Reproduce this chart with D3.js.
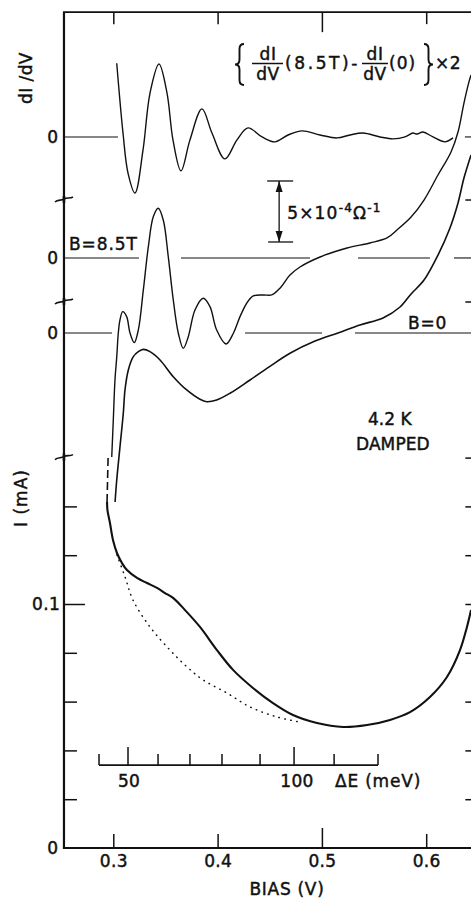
<!DOCTYPE html>
<html><head><meta charset="utf-8">
<script src="https://cdn.jsdelivr.net/npm/d3@7"></script>
<style>
html,body{margin:0;padding:0;background:#fff}
svg{display:block}
text{font-family:"DejaVu Sans",sans-serif;fill:#111;stroke:#111;stroke-width:0.45px}
</style>
</head><body>
<svg id="c" width="471" height="898"></svg>
<script>
// ---------- DATA ----------
const BIAS_TICKS = [0.3, 0.4, 0.5, 0.6];                 // V
const I_TICKS = [0.02, 0.04, 0.06, 0.08, 0.1, 0.12, 0.14]; // mA
const I_BREAK = 0.16;                                     // mA (axis break)
const DIDV_BREAKS = [10.9, 2.54];                         // 1e-4 Ohm^-1 (axis breaks)

// dI/dV offsets of each trace's "0" line (1e-4 Ohm^-1, B=0 line = 0)
const OFFSET_B0 = 0, OFFSET_B85 = 6.15, OFFSET_DIFF = 16.07;
const DIFF_FACTOR = 2;

// I-V curve (bias V, current mA)
const IV_BIAS = [0.2940,0.2944,0.2968,0.2997,0.3035,0.3083,0.3131,0.3227,0.3323,0.3419,0.3496,0.3573,0.3688,0.3831,0.3994,0.4148,0.4339,0.4531,0.4723,0.4953,0.5203,0.5433,0.5653,0.5845,0.6036,0.6199,0.6324,0.6391,0.6430];
const IV_CURR = [0.1418,0.1385,0.1332,0.1262,0.1209,0.1168,0.1139,0.1107,0.1086,0.1066,0.1045,0.1025,0.0975,0.0906,0.0811,0.0730,0.0656,0.0594,0.0545,0.0512,0.0496,0.0504,0.0525,0.0557,0.0619,0.0701,0.0811,0.0906,0.0975];
// dashed continuation of I-V above the break
const IV_DASH_BIAS = [0.2950, 0.2940];
const IV_DASH_CURR = [0.1598, 0.1418];
// dotted background curve
const DOT_BIAS = [0.3035,0.3113,0.3189,0.3352,0.3544,0.3707,0.3860,0.4090,0.4311,0.4570,0.4790];
const DOT_CURR = [0.1201,0.1111,0.1016,0.0906,0.0811,0.0742,0.0689,0.0635,0.0578,0.0537,0.0516];

// dI/dV at B = 0 (1e-4 Ohm^-1 relative to its 0 line)
const B0_BIAS = [0.3017,0.3033,0.3064,0.3096,0.3112,0.3144,0.3192,0.3240,0.3288,0.3352,0.3448,0.3575,0.3704,0.3831,0.3896,0.3991,0.4119,0.4311,0.4502,0.4694,0.4934,0.5154,0.5365,0.5586,0.5749,0.5855,0.5979,0.6113,0.6228,0.6305,0.6362,0.6430];
const B0_VAL  = [-13.85,-12.05,-9.34,-6.56,-4.67,-3.03,-1.94,-1.53,-1.34,-1.53,-2.21,-3.58,-4.67,-5.43,-5.63,-5.49,-4.94,-3.85,-2.73,-1.66,-0.66,0,0.66,1.23,2.13,3.20,4.34,6.39,8.61,10.66,12.70,14.59];

// dI/dV at B = 8.5 T
const B85_BIAS = [0.2985,0.3000,0.3016,0.3033,0.3048,0.3064,0.3090,0.3128,0.3160,0.3201,0.3240,0.3288,0.3336,0.3384,0.3431,0.3479,0.3527,0.3575,0.3623,0.3671,0.3719,0.3783,0.3863,0.3927,0.3991,0.4081,0.4151,0.4215,0.4279,0.4342,0.4438,0.4519,0.4598,0.4694,0.4790,0.4982,0.5241,0.5461,0.5624,0.5720,0.5855,0.5979,0.6113,0.6238,0.6305,0.6362,0.6410,0.6430];
const B85_VAL  = [-16.31,-13.28,-10.00,-8.11,-6.15,-5.08,-4.40,-4.81,-6.15,-6.94,-5.90,-2.62,0.93,3.39,4.07,3.11,0.11,-3.44,-6.15,-7.40,-6.45,-4.26,-3.30,-3.99,-5.90,-7.05,-6.17,-4.81,-3.71,-3.11,-3.03,-3.03,-2.48,-1.39,-0.74,0.08,0.82,1.23,1.64,2.30,3.36,4.75,6.80,8.69,10.33,12.70,14.43,15.00];

// difference dI/dV(8.5T) - dI/dV(0) (actual, plotted x2)
const DIFF_BIAS = [0.3033,0.3093,0.3141,0.3208,0.3285,0.3352,0.3438,0.3515,0.3572,0.3649,0.3735,0.3850,0.3946,0.4070,0.4186,0.4291,0.4426,0.4550,0.4675,0.4809,0.4982,0.5145,0.5269,0.5394,0.5557,0.5682,0.5797,0.5873,0.5912,0.5969,0.6065,0.6180,0.6257];
const DIFF_VAL  = [3.02,0.16,-1.48,-2.30,-0.53,1.80,2.99,1.80,-0.12,-1.39,-0.12,1.15,0.16,-0.90,-0.12,0.37,0,-0.20,0.08,0.25,0.08,-0.04,0.08,0.16,0,-0.08,0,0.16,0.12,0.20,0,-0.20,-0.04];

// drawn pieces of the zero lines (bias ranges)
const ZERO_SEG_DIFF = [[0.2527,0.3045],[0.6371,0.65]];
const ZERO_SEG_B85  = [[0.2527,0.3246],[0.3649,0.4886],[0.5346,0.6036],[0.6266,0.65]];
const ZERO_SEG_B0   = [[0.2527,0.2988],[0.4263,0.5001],[0.5317,0.65]];

// scale bar (5e-4 Ohm^-1)
const SCALE_BAR_BIAS = 0.459, SCALE_BAR_FROM = 7.46, SCALE_BAR_SPAN = 5;

// Delta E inset scale (meV) and its bias positions
const DE_TICKS = [50,60,70,80,90,100,110];
const DE_BIAS  = [0.3141,0.3429,0.3735,0.4042,0.4407,0.4733,0.5117];
const DE_ENDS  = [0.2863,0.5538];
const DE_LEVEL = 0.034; // mA level of the inset axis

const X_MIN = 0.2527, X_MAX = 0.65, DIDV_TOP = 26.3;

// ---------- SCALES ----------
const x = d3.scaleLinear().domain([0.3, 0.6]).range([113.3, 426.2]);
const yI = d3.scaleLinear().domain([0, 0.1]).range([848, 604]);
const yD = d3.scaleLinear().domain([0, 5]).range([333, 272]);

const svg = d3.select('#c');
const L = x(X_MIN), R = x(X_MAX), B = yI(0), T = yD(DIDV_TOP);
const ink = '#111';

// ---------- FRAME ----------
svg.append('line').attr('x1',L).attr('x2',L).attr('y1',T).attr('y2',B+1).attr('stroke',ink).attr('stroke-width',2.2);
svg.append('line').attr('x1',L-1).attr('x2',R).attr('y1',B).attr('y2',B).attr('stroke',ink).attr('stroke-width',2.2);
svg.append('line').attr('x1',L-1).attr('x2',R).attr('y1',T).attr('y2',T).attr('stroke',ink).attr('stroke-width',1.6);
svg.append('line').attr('x1',R).attr('x2',R).attr('y1',T).attr('y2',B).attr('stroke',ink).attr('stroke-width',2);

function styleAxis(g){
  g.select('.domain').remove();
  g.selectAll('line').attr('stroke',ink).attr('stroke-width',1.5);
  g.attr('font-family','DejaVu Sans').attr('font-size',17);
  g.selectAll('text').attr('fill',ink).style('letter-spacing','0.3px');
}
// bottom axis
const gb = svg.append('g').attr('transform',`translate(0,${B})`)
  .call(d3.axisBottom(x).tickValues(BIAS_TICKS).tickSizeInner(-14).tickSizeOuter(0).tickPadding(7).tickFormat(d3.format('.1f')));
styleAxis(gb);
gb.selectAll('.tick').filter(d=>d===0.5).select('line').attr('y2',-20);
// top axis
const gt = svg.append('g').attr('transform',`translate(0,${T})`)
  .call(d3.axisTop(x).tickValues(BIAS_TICKS).tickSizeInner(-12).tickSizeOuter(0).tickFormat(''));
styleAxis(gt);
gt.selectAll('.tick').filter(d=>d===0.5).select('line').attr('y2',20);
// left current axis
const gl = svg.append('g').attr('transform',`translate(${L},0)`)
  .call(d3.axisRight(yI).tickValues(I_TICKS).tickSizeInner(13).tickSizeOuter(0).tickFormat(''));
styleAxis(gl);
gl.selectAll('.tick').filter(d=>d===0.1).select('line').attr('x2',21);
// right axis
const gr = svg.append('g').attr('transform',`translate(${R},0)`)
  .call(d3.axisLeft(yI).tickValues(I_TICKS.concat([I_BREAK])).tickSizeInner(13).tickSizeOuter(0).tickFormat(''));
styleAxis(gr);
DIDV_BREAKS.forEach(v=>{
  svg.append('line').attr('x1',R-13).attr('x2',R).attr('y1',yD(v)).attr('y2',yD(v)).attr('stroke',ink).attr('stroke-width',1.5);
});

// axis break squiggles on left axis
function breakMark(y){
  svg.append('path')
    .attr('d',`M${L-9},${y+2} C${L-6},${y-1} ${L-3},${y+1} ${L},${y-1} C${L+3},${y-3} ${L+6},${y-1} ${L+9},${y-3}`)
    .attr('fill','none').attr('stroke',ink).attr('stroke-width',1.6);
  svg.append('line').attr('x1',L).attr('x2',L).attr('y1',y-4).attr('y2',y+3).attr('stroke',ink).attr('stroke-width',2.6);
}
DIDV_BREAKS.forEach(v=>breakMark(yD(v)));
breakMark(yI(I_BREAK));

// ---------- ZERO LINES ----------
function zeroLines(segs, off){
  segs.forEach(s=>{
    svg.append('line').attr('x1',x(s[0])).attr('x2',Math.min(x(s[1]),R)).attr('y1',yD(off)).attr('y2',yD(off))
      .attr('stroke',ink).attr('stroke-width',1.1);
  });
}
zeroLines(ZERO_SEG_DIFF, OFFSET_DIFF);
zeroLines(ZERO_SEG_B85, OFFSET_B85);
zeroLines(ZERO_SEG_B0, OFFSET_B0);

// ---------- CURVES ----------
const cr = d3.curveCatmullRom.alpha(0.5);
function dLine(bias, vals, off, k){
  const pts = bias.map((b,i)=>[b, vals[i]*k + off]);
  return d3.line().x(d=>x(d[0])).y(d=>yD(d[1])).curve(cr)(pts);
}
function iLine(bias, vals){
  const pts = bias.map((b,i)=>[b, vals[i]]);
  return d3.line().x(d=>x(d[0])).y(d=>yI(d[1])).curve(cr)(pts);
}
svg.append('path').attr('d',dLine(DIFF_BIAS,DIFF_VAL,OFFSET_DIFF,DIFF_FACTOR)).attr('fill','none').attr('stroke',ink).attr('stroke-width',1.4);
svg.append('path').attr('d',dLine(B85_BIAS,B85_VAL,OFFSET_B85,1)).attr('fill','none').attr('stroke',ink).attr('stroke-width',1.4);
svg.append('path').attr('d',dLine(B0_BIAS,B0_VAL,OFFSET_B0,1)).attr('fill','none').attr('stroke',ink).attr('stroke-width',1.6);
svg.append('path').attr('d',iLine(IV_BIAS,IV_CURR)).attr('fill','none').attr('stroke',ink).attr('stroke-width',2.1);
svg.append('path').attr('d',iLine(IV_DASH_BIAS,IV_DASH_CURR)).attr('fill','none').attr('stroke',ink).attr('stroke-width',1.6).attr('stroke-dasharray','8,4');
svg.append('path').attr('d',iLine(DOT_BIAS,DOT_CURR)).attr('fill','none').attr('stroke',ink).attr('stroke-width',1.5)
  .attr('stroke-dasharray','0.5,5.5').attr('stroke-linecap','round');

// ---------- SCALE BAR ----------
{
  const sx = x(SCALE_BAR_BIAS), y0 = yD(SCALE_BAR_FROM), y1 = yD(SCALE_BAR_FROM+SCALE_BAR_SPAN);
  svg.append('line').attr('x1',sx).attr('x2',sx).attr('y1',y0).attr('y2',y1).attr('stroke',ink).attr('stroke-width',1.3);
  svg.append('line').attr('x1',sx-12).attr('x2',sx+14).attr('y1',y1).attr('y2',y1).attr('stroke',ink).attr('stroke-width',1.3);
  svg.append('line').attr('x1',sx-11).attr('x2',sx+14).attr('y1',y0).attr('y2',y0).attr('stroke',ink).attr('stroke-width',1.3);
  svg.append('path').attr('d',`M${sx},${y1} L${sx-3.5},${y1+11} L${sx+3.5},${y1+11} Z`).attr('fill',ink);
  svg.append('path').attr('d',`M${sx},${y0} L${sx-3.5},${y0-11} L${sx+3.5},${y0-11} Z`).attr('fill',ink);
  const t = svg.append('text').attr('x',sx+8).attr('y',yD(SCALE_BAR_FROM+SCALE_BAR_SPAN/2)+8).attr('font-size',17).style('letter-spacing','1.2px');
  t.append('tspan').text('5×10');
  t.append('tspan').attr('dy',-7).attr('font-size',12).text('-4');
  t.append('tspan').attr('dy',7).text('Ω');
  t.append('tspan').attr('dy',-7).attr('font-size',12).text('-1');
}

// ---------- DELTA E INSET ----------
{
  const yy = yI(DE_LEVEL);
  svg.append('line').attr('x1',x(DE_ENDS[0])).attr('x2',x(DE_ENDS[1])).attr('y1',yy).attr('y2',yy).attr('stroke',ink).attr('stroke-width',1.8);
  DE_ENDS.forEach(b=>svg.append('line').attr('x1',x(b)).attr('x2',x(b)).attr('y1',yy).attr('y2',yy-11).attr('stroke',ink).attr('stroke-width',1.5));
  DE_TICKS.forEach((e,i)=>{
    const major = e%50===0;
    svg.append('line').attr('x1',x(DE_BIAS[i])).attr('x2',x(DE_BIAS[i])).attr('y1',yy).attr('y2',yy-(major?18:11)).attr('stroke',ink).attr('stroke-width',1.5);
    if(major) svg.append('text').attr('x',x(DE_BIAS[i])+(e===100?3:1)).attr('y',yy+22).attr('text-anchor','middle').attr('font-size',17).style('letter-spacing','0.3px').text(e);
  });
  svg.append('text').attr('x',335).attr('y',yy+22).attr('font-size',17).style('letter-spacing','0.8px').text('ΔE (meV)');
}

// ---------- LABELS ----------
function lab(txt, px, py, opts={}){
  const t = svg.append('text').attr('x',px).attr('y',py).attr('font-size',opts.size||17)
    .attr('text-anchor',opts.anchor||'start').style('letter-spacing',(opts.ls||0)+'px');
  if(opts.rot) t.attr('transform',`rotate(-90,${px},${py})`);
  t.text(txt);
  return t;
}
lab('0', 58, yD(OFFSET_DIFF)+6, {anchor:'end'});
lab('0', 58, yD(OFFSET_B85)+6, {anchor:'end'});
lab('0', 58, yD(OFFSET_B0)+6, {anchor:'end'});
lab('0', 58, yI(0)+6, {anchor:'end'});
lab('0.1', 60, yI(0.1)+6, {anchor:'end', ls:0.3});
lab('B=8.5T', 69, yD(OFFSET_B85)-8, {ls:0.9});
lab('B=0', 408, yD(OFFSET_B0)-4, {ls:0.8});
lab('4.2 K', 368, 425, {ls:0});
lab('DAMPED', 356, 450, {ls:0.1});
lab('BIAS (V)', 287, 895, {anchor:'middle', ls:0.7});
lab('I (mA)', 27, 498, {anchor:'middle', ls:1, rot:true});
lab('dI /dV', 32, 78, {anchor:'middle', ls:0.4, rot:true});

// formula
function brace(x0, y0, y1, left){
  const w = 9, m = (y0+y1)/2, xo = left?x0+w:x0-w, xm = left?x0+w/2:x0-w/2;
  const d = `M${xo},${y0} Q${xm},${y0} ${xm},${y0+5} L${xm},${m-5} Q${xm},${m} ${x0},${m} Q${xm},${m} ${xm},${m+5} L${xm},${y1-5} Q${xm},${y1} ${xo},${y1}`;
  svg.append('path').attr('d',d).attr('fill','none').attr('stroke',ink).attr('stroke-width',1.9);
}
brace(235, 44, 85, true);
brace(433, 44, 85, false);
function frac(cx, x0, x1){
  lab('dI', cx, 60, {anchor:'middle', ls:0.5});
  svg.append('line').attr('x1',x0).attr('x2',x1).attr('y1',63.5).attr('y2',63.5).attr('stroke',ink).attr('stroke-width',1.5);
  lab('dV', cx, 80, {anchor:'middle', ls:0.5});
}
frac(268, 252, 283);
lab('(8.5T)-', 285, 68.5, {ls:2.6});
frac(375, 362, 388);
lab('(0)', 389, 68.5, {ls:1});
lab('×2', 435, 68.5, {ls:0.5});
</script>
</body></html>
